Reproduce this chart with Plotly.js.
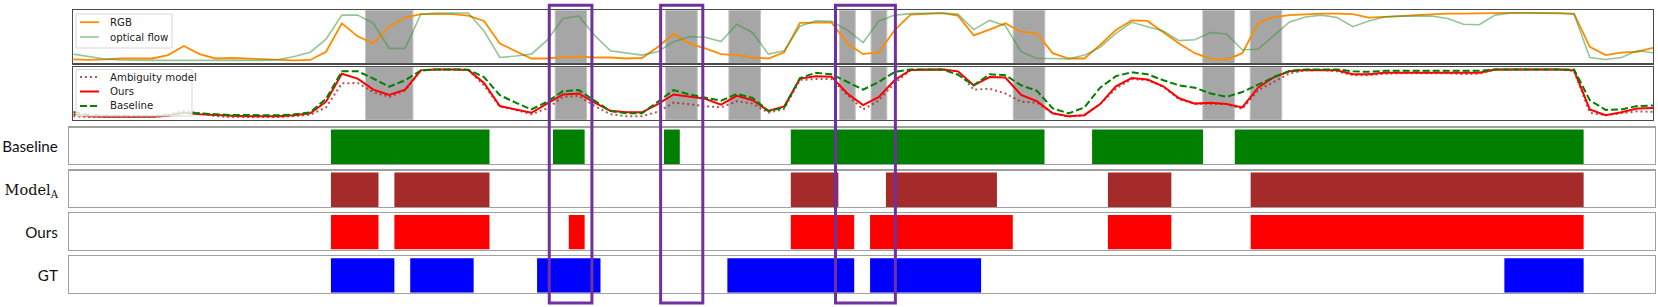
<!DOCTYPE html>
<html><head><meta charset="utf-8">
<script src="https://cdn.plot.ly/plotly-3.0.1.min.js"></script>
<style>html,body{margin:0;padding:0;background:#fff}#chart{width:1658px;height:307px}</style>
</head><body><div id="chart"></div>
<script>
// ---------- DATA ----------
const frames = [0,1,2,3,4,5,6,7,8,9,10,11,12,13,14,15,16,17,18,19,20,21,22,23,24,25,26,27,28,29,30,31,32,33,34,35,36,37,38,39,40,41,42,43,44,45,46,47,48,49,50,51,52,53,54,55,56,57,58,59,60,61,62,63,64,65,66,67,68,69,70,71,72,73,74,75,76,77,78,79,80,81,82,83,84,85,86,87,88,89,90,91,92,93,94,95,96,97,98,99,100];

const topNames = ["RGB", "optical flow"];
const rgbScore = [0.03,0.02,0.03,0.05,0.05,0.05,0.12,0.31,0.14,0.05,0.06,0.05,0.03,0.02,0.01,0.02,0.19,0.78,0.51,0.36,0.71,0.90,0.97,0.97,0.97,0.94,0.83,0.36,0.21,0.05,0.05,0.08,0.09,0.07,0.07,0.05,0.06,0.29,0.56,0.36,0.26,0.14,0.12,0.07,0.05,0.18,0.79,0.80,0.80,0.36,0.14,0.18,0.64,0.96,0.98,0.99,0.94,0.53,0.65,0.78,0.60,0.57,0.16,0.05,0.05,0.33,0.64,0.84,0.83,0.60,0.36,0.16,0.04,0.02,0.16,0.78,0.91,0.95,0.97,0.98,0.98,0.97,0.90,0.91,0.93,0.95,0.97,0.98,0.98,0.99,0.995,0.995,0.995,0.995,0.995,0.98,0.29,0.12,0.17,0.19,0.27];
const flowScore = [0.14,0.09,0.04,0.02,0.01,0.01,0.01,0.01,0.01,0.01,0.01,0.01,0.01,0.03,0.09,0.18,0.45,0.95,0.95,0.78,0.26,0.26,0.97,0.995,0.995,0.995,0.62,0.07,0.10,0.14,0.43,0.88,0.93,0.53,0.21,0.16,0.12,0.19,0.40,0.50,0.49,0.40,0.76,0.59,0.14,0.21,0.72,0.83,0.82,0.64,0.38,0.83,0.95,0.98,0.995,0.995,0.97,0.65,0.84,0.73,0.19,0.05,0.05,0.04,0.12,0.28,0.57,0.80,0.71,0.62,0.42,0.44,0.59,0.56,0.23,0.24,0.53,0.81,0.91,0.95,0.90,0.71,0.83,0.91,0.93,0.93,0.93,0.88,0.76,0.75,0.95,0.995,0.995,0.995,0.995,0.97,0.07,0.03,0.07,0.21,0.17];

const midNames = ["Ambiguity model", "Ours", "Baseline"];
const ambiguityScore = [0.03,0.01,0.01,0.01,0.01,0.01,0.05,0.14,0.09,0.03,0.01,0.01,0.01,0.01,0.03,0.06,0.21,0.71,0.72,0.53,0.43,0.56,0.98,1.00,1.00,0.99,0.67,0.23,0.16,0.07,0.19,0.43,0.45,0.24,0.07,0.03,0.03,0.12,0.31,0.27,0.24,0.21,0.34,0.29,0.10,0.18,0.78,0.80,0.80,0.47,0.17,0.36,0.72,0.98,1.00,1.00,0.96,0.58,0.60,0.50,0.33,0.31,0.09,0.02,0.05,0.28,0.60,0.80,0.78,0.64,0.38,0.29,0.29,0.28,0.18,0.57,0.74,0.92,0.98,0.99,0.96,0.88,0.88,0.91,0.92,0.92,0.92,0.92,0.90,0.91,0.99,1.00,1.00,1.00,1.00,0.97,0.10,0.05,0.09,0.13,0.12];
const oursScore = [0.07,0.03,0.02,0.02,0.02,0.02,0.04,0.10,0.07,0.05,0.04,0.03,0.03,0.03,0.05,0.09,0.33,0.91,0.81,0.58,0.47,0.58,0.98,1.00,1.00,0.99,0.72,0.24,0.17,0.10,0.29,0.48,0.50,0.31,0.14,0.11,0.11,0.28,0.48,0.43,0.39,0.27,0.45,0.36,0.14,0.23,0.81,0.86,0.85,0.50,0.26,0.43,0.78,0.99,1.00,1.00,0.96,0.67,0.84,0.83,0.47,0.34,0.09,0.03,0.05,0.28,0.65,0.82,0.79,0.65,0.40,0.29,0.31,0.28,0.21,0.62,0.84,0.96,0.99,0.99,0.98,0.90,0.90,0.93,0.93,0.94,0.94,0.94,0.93,0.93,1.00,1.00,1.00,1.00,1.00,0.98,0.17,0.05,0.11,0.19,0.20];
const baselineScore = [0.115,0.053,0.039,0.033,0.033,0.033,0.053,0.10,0.088,0.067,0.053,0.053,0.046,0.046,0.067,0.108,0.39,0.96,0.96,0.81,0.64,0.775,0.98,1.00,1.00,0.995,0.84,0.466,0.31,0.17,0.328,0.55,0.57,0.36,0.136,0.088,0.088,0.328,0.57,0.48,0.41,0.35,0.49,0.41,0.136,0.21,0.82,0.93,0.90,0.74,0.58,0.74,0.95,1.00,1.00,1.00,0.89,0.67,0.90,0.88,0.67,0.555,0.19,0.088,0.21,0.62,0.86,0.94,0.90,0.775,0.67,0.62,0.50,0.43,0.53,0.68,0.84,0.97,1.00,1.00,1.00,0.96,0.95,0.97,0.97,0.98,0.98,0.98,0.98,0.97,1.00,1.00,1.00,1.00,1.00,1.00,0.36,0.16,0.17,0.24,0.25];

// shaded (ambiguous) intervals on the score panels, in frame units
const shadeStart = [18.5, 30.5, 37.5, 41.5, 48.5, 50.5, 59.5, 71.5, 74.5];
const shadeEnd   = [21.5, 32.5, 39.5, 43.5, 49.5, 51.5, 61.5, 73.5, 76.5];

// highlighted windows (purple boxes), in frame units
const highlightStart = [30.13, 37.18, 48.25];
const highlightEnd   = [32.83, 39.85, 52.04];

// segment rows
const rowLabels = ["Baseline", "Model<sub>A</sub>", "Ours", "GT"];
const baselineSegStart = [16, 30, 37, 45, 64, 73];
const baselineSegEnd   = [26, 32, 38, 61, 71, 95];
const modelASegStart   = [16, 20, 45, 51, 65, 74];
const modelASegEnd     = [19, 26, 48, 58, 69, 95];
const oursSegStart     = [16, 20, 31, 45, 50, 65, 74];
const oursSegEnd       = [19, 26, 32, 49, 59, 69, 95];
const gtSegStart       = [16, 21, 29, 41, 50, 90];
const gtSegEnd         = [20, 25, 33, 49, 57, 95];

// ---------- LAYOUT HELPERS ----------
const W = 1658, H = 307;
const px = v => v / W;
const py = v => 1 - v / H;

const lineDomX = [px(73.3), px(1653)];
const barDomX = [px(69.3), px(1655)];
const p1Y = [py(63.3), py(10.3)];
const p2Y = [py(120), py(67)];
const rowY = [
  [py(164), py(127.5)],
  [py(207), py(170.5)],
  [py(249.5), py(213)],
  [py(292.8), py(256.3)]
];

const rowColors = ["#008000", "#a52a2a", "#ff0000", "#0000ff"];
const rowStarts = [baselineSegStart, modelASegStart, oursSegStart, gtSegStart];
const rowEnds = [baselineSegEnd, modelASegEnd, oursSegEnd, gtSegEnd];
const sansLabel = {family: "Lato, 'Open Sans', sans-serif", size: 15.2, color: "#111"};
const rowFonts = [sansLabel, {family: "'DejaVu Serif', serif", size: 14.5, color: "#111"}, sansLabel, sansLabel];

const traces = [];
traces.push({x: frames, y: rgbScore, name: topNames[0], xaxis: "x", yaxis: "y", mode: "lines",
  line: {color: "#ff8c00", width: 1.8}, hoverinfo: "skip"});
traces.push({x: frames, y: flowScore, name: topNames[1], xaxis: "x", yaxis: "y", mode: "lines",
  line: {color: "rgba(60,150,60,0.55)", width: 1.6}, hoverinfo: "skip"});
traces.push({x: frames, y: ambiguityScore, name: midNames[0], xaxis: "x2", yaxis: "y2", mode: "lines",
  line: {color: "rgba(165,42,42,0.8)", width: 2, dash: "2px,3px"}, hoverinfo: "skip"});
traces.push({x: frames, y: oursScore, name: midNames[1], xaxis: "x2", yaxis: "y2", mode: "lines",
  line: {color: "#ff0000", width: 2}, hoverinfo: "skip"});
traces.push({x: frames, y: baselineScore, name: midNames[2], xaxis: "x2", yaxis: "y2", mode: "lines",
  line: {color: "#008000", width: 2, dash: "7px,3px"}, hoverinfo: "skip"});

for (let r = 0; r < 4; r++) {
  const s = rowStarts[r], e = rowEnds[r];
  traces.push({
    type: "bar", orientation: "h",
    base: s, x: s.map((v, i) => e[i] - v), y: s.map(() => 0.5), width: 1,
    xaxis: "x" + (r + 3), yaxis: "y" + (r + 3),
    marker: {color: rowColors[r], line: {width: 0}}, hoverinfo: "skip"
  });
}

const layout = {
  width: W, height: H,
  margin: {l: 0, r: 0, t: 0, b: 0, pad: 0},
  paper_bgcolor: "#fff", plot_bgcolor: "#fff",
  showlegend: false, barmode: "overlay",
  shapes: [], annotations: []
};

function lineAxis(domain, anchor) {
  return {domain: domain, range: [0, 100], anchor: anchor, showgrid: false, zeroline: false,
    showticklabels: false, ticks: "", showline: true, mirror: true, linecolor: "#4a4a4a",
    linewidth: 1.2, fixedrange: true};
}
function valAxis(domain, anchor) {
  return {domain: domain, range: [-0.05, 1.05], anchor: anchor, showgrid: false, zeroline: false,
    showticklabels: false, ticks: "", showline: true, mirror: true, linecolor: "#4a4a4a",
    linewidth: 1.2, fixedrange: true};
}
layout.xaxis = lineAxis(lineDomX, "y");
layout.yaxis = valAxis(p1Y, "x");
layout.xaxis2 = lineAxis(lineDomX, "y2");
layout.yaxis2 = valAxis(p2Y, "x2");

for (let r = 0; r < 4; r++) {
  const n = r + 3;
  layout["xaxis" + n] = {domain: barDomX, range: [-0.5, 99.5], anchor: "y" + n, showgrid: false,
    zeroline: false, showticklabels: false, ticks: "", showline: true, mirror: true,
    linecolor: "#a0a0a0", linewidth: 1.4, fixedrange: true};
  layout["yaxis" + n] = {domain: rowY[r], range: [0, 1.055], anchor: "x" + n, showgrid: false,
    zeroline: false, tickvals: [0.5], ticktext: [rowLabels[r]], ticks: "", ticklabelstandoff: 7,
    tickfont: rowFonts[r], showline: true, mirror: true, linecolor: "#a0a0a0", linewidth: 1.4,
    fixedrange: true};
}

// shaded ambiguous intervals on both score panels
for (let i = 0; i < shadeStart.length; i++) {
  for (const ax of [["x", "y domain"], ["x2", "y2 domain"]]) {
    layout.shapes.push({type: "rect", layer: "below", xref: ax[0], yref: ax[1],
      x0: shadeStart[i], x1: shadeEnd[i], y0: 0, y1: 1,
      fillcolor: "#a6a6a6", line: {color: "#c4c4c4", width: 1}});
  }
}

// purple highlight boxes
for (let i = 0; i < highlightStart.length; i++) {
  layout.shapes.push({type: "rect", layer: "above", xref: "x", yref: "paper",
    x0: highlightStart[i], x1: highlightEnd[i], y0: py(303), y1: py(5.3),
    fillcolor: "rgba(0,0,0,0)", line: {color: "#7030a0", width: 3}});
}

// legends (drawn boxes, samples and labels)
function legendBox(x0, y0, x1, y1) {
  layout.shapes.push({type: "rect", layer: "above", xref: "paper", yref: "paper",
    x0: px(x0), x1: px(x1), y0: py(y1), y1: py(y0),
    fillcolor: "rgba(255,255,255,0.8)", line: {color: "#d6d6d6", width: 1}});
}
function legendItem(yc, label, line) {
  layout.shapes.push({type: "line", layer: "above", xref: "paper", yref: "paper",
    x0: px(80), x1: px(99), y0: py(yc), y1: py(yc), line: line});
  layout.annotations.push({xref: "paper", yref: "paper", x: px(107.5), y: py(yc),
    xanchor: "left", yanchor: "middle", showarrow: false, text: label,
    font: {family: "'DejaVu Sans', sans-serif", size: 10.2, color: "#222"}});
}
legendBox(76, 14, 172, 48);
legendItem(22.2, topNames[0], {color: "#ff8c00", width: 1.8});
legendItem(37, topNames[1], {color: "rgba(60,150,60,0.55)", width: 1.6});
legendBox(76, 69.5, 192, 116);
legendItem(77, midNames[0], {color: "rgba(165,42,42,0.8)", width: 2, dash: "2px,3px"});
legendItem(91.5, midNames[1], {color: "#ff0000", width: 2});
legendItem(106, midNames[2], {color: "#008000", width: 2, dash: "7px,3px"});

Plotly.newPlot("chart", traces, layout, {staticPlot: true, displayModeBar: false});
</script>
</body></html>
